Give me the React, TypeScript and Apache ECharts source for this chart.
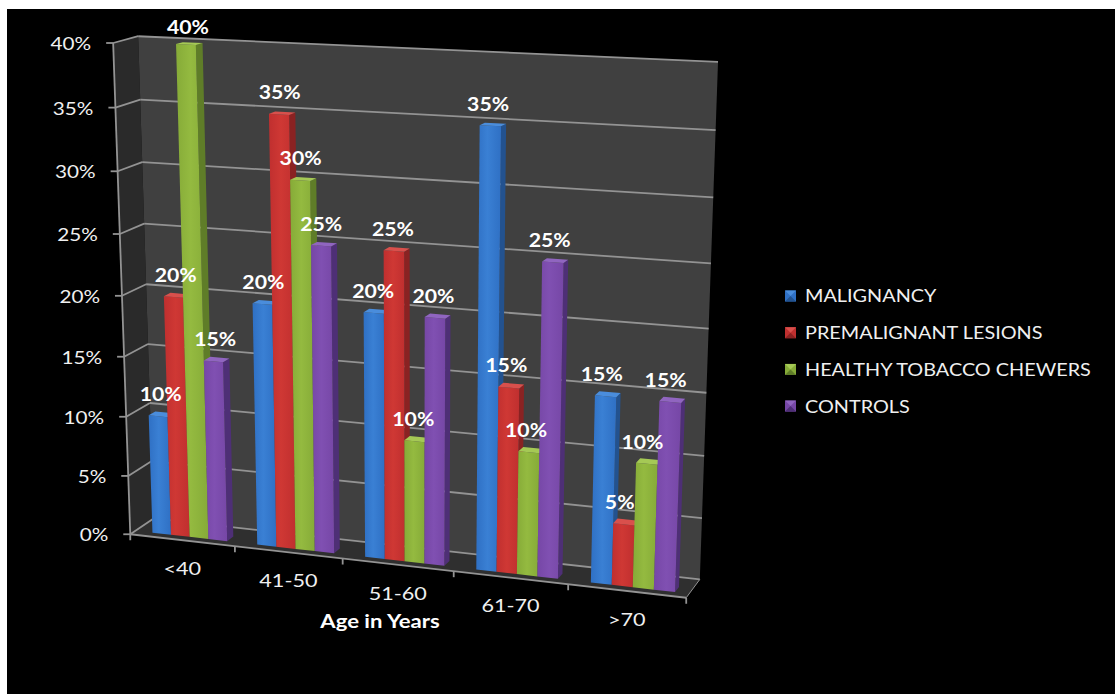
import React, { useEffect, useRef } from "react";
import * as echarts from "echarts";

const WIDTH = 1115;
const HEIGHT = 694;

const categories = ["<40", "41-50", "51-60", "61-70", ">70"];
const malignancy = [10, 20, 20, 35, 15];
const premalignant = [20, 35, 25, 15, 5];
const tobaccoChewers = [40, 30, 10, 10, 10];
const controls = [15, 25, 20, 25, 15];
const valueTicks = [0, 5, 10, 15, 20, 25, 30, 35, 40];

const seriesNames = [
  "MALIGNANCY",
  "PREMALIGNANT LESIONS",
  "HEALTHY TOBACCO CHEWERS",
  "CONTROLS",
];
const seriesValues = [malignancy, premalignant, tobaccoChewers, controls];

// front, front highlight, side and top shades of each column
const palette = [
  { base: "#2f70c4", light: "#3a80d4", side: "#23528f", top: "#4a8ddc" },
  { base: "#c02f2f", light: "#cf3834", side: "#8a2222", top: "#d9504c" },
  { base: "#86ab38", light: "#94ba40", side: "#5f7d28", top: "#a5c955" },
  { base: "#7647a6", light: "#8050b2", side: "#4e2f76", top: "#9065c0" },
];

// Scene calibration: (across, height, depth) -> screen position of the chart box.
const cameraPoints: number[][] = [
  [0, 0, 0, 131, 533],
  [0.2, 0, 0, 236, 548],
  [0.4, 0, 0, 342, 560],
  [0.6, 0, 0, 453, 572],
  [0.8, 0, 0, 568, 585],
  [1, 0, 0, 686, 596],
  [0, 0.5, 0, 122, 294],
  [0, 1, 0, 113, 43],
  [0, 0, 1, 153, 518],
  [1, 0, 1, 700, 579],
  [0, 1, 1, 138, 37],
  [1, 1, 1, 718, 62],
  [1, 0.875, 1, 716, 130],
  [1, 0.75, 1, 713, 197],
  [1, 0.375, 1, 707, 393],
  [1, 0.25, 1, 704, 457],
  [1, 0.125, 1, 702, 517],
];

function solveCamera(points: number[][]): number[] {
  const n = 11;
  const A = Array.from({ length: n }, () => new Array(n + 1).fill(0));
  const add = (row: number[], rhs: number) => {
    for (let i = 0; i < n; i++) {
      for (let j = 0; j < n; j++) A[i][j] += row[i] * row[j];
      A[i][n] += row[i] * rhs;
    }
  };
  for (const [u, v, d, sx, sy] of points) {
    const x = sx / 1000;
    const y = sy / 1000;
    add([u, v, d, 1, 0, 0, 0, 0, -x * u, -x * v, -x * d], x);
    add([0, 0, 0, 0, u, v, d, 1, -y * u, -y * v, -y * d], y);
  }
  for (let c = 0; c < n; c++) {
    let p = c;
    for (let r = c + 1; r < n; r++) if (Math.abs(A[r][c]) > Math.abs(A[p][c])) p = r;
    [A[c], A[p]] = [A[p], A[c]];
    for (let r = 0; r < n; r++) {
      if (r === c) continue;
      const f = A[r][c] / A[c][c];
      for (let k = c; k <= n; k++) A[r][k] -= f * A[c][k];
    }
  }
  return A.map((row, i) => row[n] / row[i]);
}

const cam = solveCamera(cameraPoints);

function project(u: number, v: number, d: number): number[] {
  const w = cam[8] * u + cam[9] * v + cam[10] * d + 1;
  return [
    (1000 * (cam[0] * u + cam[1] * v + cam[2] * d + cam[3])) / w,
    (1000 * (cam[4] * u + cam[5] * v + cam[6] * d + cam[7])) / w,
  ];
}

// Fractions of a category band and of the floor depth taken by the columns.
const BAND_MARGIN = 0.165;
const COLUMN_WIDTH = 0.179;
const DEPTH_FRONT = 0.22;
const DEPTH_BACK = 0.5;

const fontFamily = "Lato, 'Open Sans', sans-serif";
const WALL_BACK = "#404040";
const WALL_LEFT = "#2a2a2a";
const FLOOR = "#2f2f2f";
const RULE = "#939393";

// Legend block placement
const LEGEND_X = 785;
const LEGEND_Y = 296;
const LEGEND_ROW = 36.7;
const LEGEND_SWATCH = 11;

// Reads a data point through the chart's own hidden axes as unit coordinates.
function unit(api: any, category: number, value: number) {
  const [px, py] = api.coord([category, value]);
  return { u: px / WIDTH, v: 1 - py / HEIGHT, band: api.size([1, 0])[0] / WIDTH };
}

function poly(points: number[][], fill: any) {
  return { type: "polygon", shape: { points }, style: { fill } };
}

function segment(a: number[], b: number[], stroke: string, lineWidth: number) {
  return {
    type: "line",
    shape: { x1: a[0], y1: a[1], x2: b[0], y2: b[1] },
    style: { stroke, lineWidth },
  };
}

function label(text: string, x: number, y: number, opts: any) {
  const { scaleX = 1.15, ...style } = opts;
  return {
    type: "text",
    x,
    y,
    scaleX,
    style: {
      text,
      x: 0,
      y: 0,
      fontFamily,
      verticalAlign: "middle",
      align: "center",
      ...style,
    },
  };
}

function renderWalls() {
  return {
    type: "group",
    children: [
      poly([project(0, 0, 0), project(1, 0, 0), project(1, 0, 1), project(0, 0, 1)], FLOOR),
      poly([project(0, 0, 0), project(0, 1, 0), project(0, 1, 1), project(0, 0, 1)], WALL_LEFT),
      poly([project(0, 0, 1), project(0, 1, 1), project(1, 1, 1), project(1, 0, 1)], WALL_BACK),
      segment(project(0, 0, 0), project(0, 1, 0), RULE, 1.8),
      segment(project(0, 0, 0), project(1, 0, 0), RULE, 1.8),
      segment(project(1, 0, 0), project(1, 0, 1), RULE, 1),
    ],
  };
}

function renderValueTick(_: any, api: any) {
  const value = api.value(1);
  const { v } = unit(api, 0, value);
  const front = project(0, v, 0);
  const corner = project(0, v, 1);
  const right = project(1, v, 1);
  return {
    type: "group",
    children: [
      segment(front, corner, RULE, 1.8),
      segment(corner, right, RULE, 1.8),
      segment([front[0] - 7, front[1]], front, RULE, 1.8),
      label(`${value}%`, front[0] - 22, front[1], {
        fill: "#f0f0f0",
        fontSize: 18,
        align: "right",
      }),
    ],
  };
}

function renderCategoryTick(params: any, api: any) {
  const index = api.value(0);
  const { u, band } = unit(api, index, 0);
  const end = project(u + band / 2, 0, 0);
  const mid = project(u, 0, 0);
  const children: any[] = [
    segment(end, [end[0], end[1] + 6], RULE, 1.8),
    label(categories[index], mid[0], mid[1] + 27.5, { fill: "#f0f0f0", fontSize: 18, scaleX: 1.2 }),
  ];
  if (index === 0) {
    const start = project(u - band / 2, 0, 0);
    children.push(segment(start, [start[0], start[1] + 6], RULE, 1.8));
  }
  return { type: "group", children };
}

function columnFrame(api: any, s: number) {
  const index = api.value(0);
  const value = api.value(1);
  const { u, v, band } = unit(api, index, value);
  const u0 = u - band / 2 + band * (BAND_MARGIN + s * COLUMN_WIDTH);
  const u1 = u0 + band * COLUMN_WIDTH;
  return { u0, u1, v, value };
}

function renderColumn(s: number) {
  return (_: any, api: any) => {
    const { u0, u1, v } = columnFrame(api, s);
    const c = palette[s];
    const [d0, d1] = [DEPTH_FRONT, DEPTH_BACK];
    const frontFill = new echarts.graphic.LinearGradient(0, 0, 1, 0, [
      { offset: 0, color: c.base },
      { offset: 0.45, color: c.light },
      { offset: 1, color: c.base },
    ]);
    return {
      type: "group",
      children: [
        poly([project(u1, 0, d0), project(u1, v, d0), project(u1, v, d1), project(u1, 0, d1)], c.side),
        poly([project(u0, 0, d0), project(u0, v, d0), project(u1, v, d0), project(u1, 0, d0)], frontFill),
        poly([project(u0, v, d0), project(u0, v, d1), project(u1, v, d1), project(u1, v, d0)], c.top),
      ],
    };
  };
}

function renderValueLabel(s: number) {
  return (_: any, api: any) => {
    const { u0, u1, v, value } = columnFrame(api, s);
    const mid = (u0 + u1) / 2;
    const top = project(mid, v, DEPTH_FRONT);
    return label(`${value}%`, top[0] + 3 - 8 * mid, Math.max(top[1] - 22, 27), {
      fill: "#ffffff",
      fontSize: 18,
      fontWeight: "bold",
      scaleX: 1.18,
    });
  };
}

function renderAxisTitle() {
  return label("Age in Years", 380, 621, {
    fill: "#ffffff",
    fontSize: 18,
    fontWeight: "bold",
    scaleX: 1.23,
  });
}

// One legend row: a bevelled swatch followed by the series name.
function legendRow(name: string, s: number) {
  const c = palette[s];
  const x0 = LEGEND_X;
  const x1 = LEGEND_X + LEGEND_SWATCH;
  const y = LEGEND_Y + s * LEGEND_ROW;
  const y0 = y - LEGEND_SWATCH / 2;
  const y1 = y + LEGEND_SWATCH / 2;
  const mid = [(x0 + x1) / 2, y];
  return {
    type: "group",
    children: [
      { ...poly([[x0, y0], [x1, y0], [x1, y1], [x0, y1]], c.base), z: 10 },
      { ...poly([[x0, y0], [x1, y0], mid], c.top), z: 10 },
      { ...poly([[x0, y1], [x1, y1], mid], c.side), z: 10 },
      {
        ...label(name, x1 + 9, y, { fill: "#f0f0f0", fontSize: 17, align: "left", scaleX: 1.167 }),
        z: 10,
      },
    ],
  };
}

const customBase = {
  type: "custom",
  coordinateSystem: "cartesian2d",
  silent: true,
  clip: false,
};

function buildOption() {
  return {
    animation: false,
    backgroundColor: "#ffffff",
    graphic: [
      {
        type: "rect",
        z: -10,
        shape: { x: 7, y: 9, width: WIDTH - 7, height: HEIGHT - 9 },
        style: { fill: "#000000" },
      },
      ...seriesNames.map(legendRow),
    ],
    grid: { left: 0, top: 0, width: WIDTH, height: HEIGHT },
    xAxis: { type: "category", data: categories, show: false },
    yAxis: { type: "value", min: 0, max: 40, interval: 5, show: false },
    series: [
      { ...customBase, z: 1, data: [[0, 0]], renderItem: renderWalls },
      { ...customBase, z: 2, data: valueTicks.map((t) => [0, t]), renderItem: renderValueTick },
      { ...customBase, z: 2, data: categories.map((_, i) => [i, 0]), renderItem: renderCategoryTick },
      ...seriesValues.map((values, s) => ({
        ...customBase,
        z: 3,
        name: seriesNames[s],
        itemStyle: { color: palette[s].base },
        data: values.map((val, i) => [i, val]),
        renderItem: renderColumn(s),
      })),
      ...seriesValues.map((values, s) => ({
        ...customBase,
        z: 5,
        data: values.map((val, i) => [i, val]),
        renderItem: renderValueLabel(s),
      })),
      { ...customBase, z: 5, data: [[0, 0]], renderItem: renderAxisTitle },
    ],
  };
}

export default function App() {
  const ref = useRef<HTMLDivElement>(null);
  useEffect(() => {
    document.body.style.margin = "0";
    const chart = echarts.init(ref.current!, null, { renderer: "svg" });
    chart.setOption(buildOption() as any);
    return () => chart.dispose();
  }, []);
  return <div ref={ref} style={{ width: WIDTH, height: HEIGHT }} />;
}
